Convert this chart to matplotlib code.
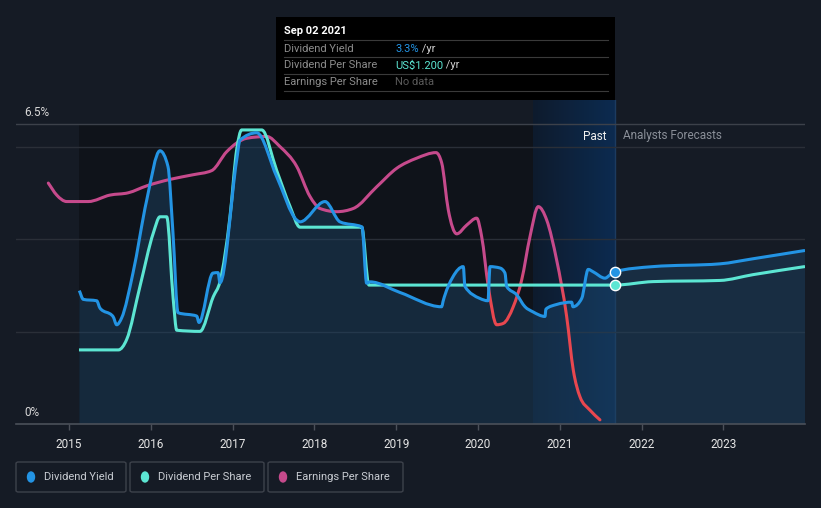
import numpy as np
import matplotlib.pyplot as plt
from matplotlib.colors import LinearSegmentedColormap
from matplotlib.patches import FancyBboxPatch, Rectangle, Ellipse, PathPatch
from matplotlib.path import Path
from matplotlib.lines import Line2D

plt.rcParams['font.family'] = ['Roboto', 'DejaVu Sans']

# dividend yield (%), past
yield_t = [2015.126, 2015.175, 2015.339, 2015.379, 2015.538, 2015.583, 2015.644, 2015.782,
           2015.950, 2016.112, 2016.210, 2016.271, 2016.333, 2016.561, 2016.589, 2016.760,
           2016.822, 2016.846, 2017.050, 2017.090, 2017.295, 2017.539, 2017.784, 2017.824,
           2018.130, 2018.313, 2018.582, 2018.639, 2018.680, 2019.046, 2019.556, 2019.572,
           2019.694, 2019.820, 2019.841, 2020.024, 2020.122, 2020.147, 2020.269, 2020.330,
           2020.351, 2020.473, 2020.575, 2020.672, 2020.819, 2020.831, 2020.962, 2021.145,
           2021.161, 2021.268, 2021.348, 2021.406, 2021.553, 2021.614, 2021.670]
yield_v = [2.89, 2.70, 2.67, 2.51, 2.33, 2.15, 2.30, 3.27,
           4.85, 5.92, 5.58, 4.14, 2.41, 2.34, 2.20, 3.27,
           3.28, 3.06, 5.72, 6.15, 6.31, 5.36, 4.42, 4.38,
           4.82, 4.38, 4.27, 3.05, 3.08, 2.85, 2.54, 2.65,
           3.19, 3.41, 2.98, 2.72, 2.67, 3.41, 3.38, 3.27,
           2.98, 2.80, 2.54, 2.43, 2.33, 2.49, 2.59, 2.64,
           2.54, 2.72, 3.35, 3.30, 3.16, 3.23, 3.30]
# dividend yield (%), forecast
yield_fc_t = [2021.670, 2022.139, 2022.958, 2023.362, 2023.998]
yield_fc_v = [3.30, 3.41, 3.47, 3.58, 3.76]

# dividend per share (US$), past
dps_t = [2015.122, 2015.603, 2015.705, 2015.868, 2016.031, 2016.112, 2016.194, 2016.275,
         2016.317, 2016.601, 2016.764, 2016.846, 2016.968, 2017.050, 2017.111, 2017.356,
         2017.539, 2017.702, 2017.824, 2018.578, 2018.667, 2021.670]
dps_v = [0.64, 0.64, 0.73, 1.19, 1.65, 1.79, 1.79, 1.07,
         0.81, 0.80, 1.10, 1.23, 1.79, 2.37, 2.54, 2.54,
         2.19, 1.88, 1.70, 1.70, 1.20, 1.20]
# dividend per share (US$), forecast
dps_fc_t = [2021.670, 2022.139, 2022.958, 2023.362, 2023.998]
dps_fc_v = [1.20, 1.23, 1.24, 1.29, 1.36]

# earnings per share (relative scale)
eps_t = [2014.747, 2014.850, 2014.972, 2015.236, 2015.501, 2015.725, 2015.950, 2016.235,
         2016.516, 2016.744, 2016.928, 2017.172, 2017.417, 2017.579, 2017.784, 2017.946,
         2018.068, 2018.273, 2018.476, 2018.762, 2019.006, 2019.251, 2019.487, 2019.556,
         2019.637, 2019.740, 2019.862, 2019.984, 2020.045, 2020.126, 2020.229, 2020.309,
         2020.431, 2020.534, 2020.636, 2020.737, 2020.840, 2020.962, 2021.084, 2021.165,
         2021.247, 2021.369, 2021.491]
eps_v = [5.22, 4.96, 4.82, 4.82, 4.96, 5.01, 5.16, 5.30,
         5.40, 5.49, 5.90, 6.19, 6.23, 6.01, 5.58, 4.93,
         4.67, 4.60, 4.67, 5.14, 5.54, 5.76, 5.88, 5.66,
         4.64, 4.12, 4.31, 4.46, 4.06, 2.98, 2.15, 2.18,
         2.54, 3.12, 4.06, 4.71, 4.42, 3.55, 2.33, 1.17,
         0.59, 0.30, 0.09]

years = [2015, 2016, 2017, 2018, 2019, 2020, 2021, 2022, 2023]
now_t = 2021.670
past_start = 2020.672
dps_per_pct = 1.20 / 3.01

BG = '#151b25'
BLUE = '#2394e4'
TEAL = '#5ce6d3'
YMAX = 7.02


def mono_path(t, v, close=False):
    # monotone cubic curve through the points (like d3 curveMonotoneX)
    t = np.asarray(t, float)
    v = np.asarray(v, float)
    h = np.diff(t)
    s = np.diff(v) / h
    m = np.zeros_like(v)
    m[0], m[-1] = s[0], s[-1]
    for k in range(1, len(v) - 1):
        p = (s[k - 1] * h[k] + s[k] * h[k - 1]) / (h[k - 1] + h[k])
        m[k] = (np.sign(s[k - 1]) + np.sign(s[k])) * min(abs(s[k - 1]), abs(s[k]), 0.5 * abs(p))
    verts = [(t[0], v[0])]
    codes = [Path.MOVETO]
    for k in range(len(h)):
        verts += [(t[k] + h[k] / 3, v[k] + m[k] * h[k] / 3),
                  (t[k + 1] - h[k] / 3, v[k + 1] - m[k + 1] * h[k] / 3),
                  (t[k + 1], v[k + 1])]
        codes += [Path.CURVE4] * 3
    if close:
        verts += [(t[-1], 0), (t[0], 0), (t[0], v[0])]
        codes += [Path.LINETO, Path.LINETO, Path.CLOSEPOLY]
    return Path(verts, codes)


fig = plt.figure(figsize=(8.21, 5.08), dpi=100, facecolor=BG)
ax = fig.add_axes([16 / 821, 84 / 508, 789 / 821, 324 / 508])
ax.set_facecolor(BG)
ax.set_xlim(2014.352, 2023.998)
ax.set_ylim(0, YMAX)

# darker past area and last-year band
ax.fill_between([yield_t[0], past_start], 0, 6.5, color='#0f131a', lw=0, zorder=0)
grad = np.linspace(0, 1, 256).reshape(1, -1)
band_cmap = LinearSegmentedColormap.from_list('band', ['#0e1b2d', '#0c2b50'])
ax.imshow(grad, cmap=band_cmap, aspect='auto', extent=[past_start, now_t, 0, YMAX], zorder=0.5)
ax.axvline(now_t, color='#1c3b60', lw=1, zorder=0.6)

# grid
for g in [2, 4, 6]:
    ax.axhline(g, color='#2a2f38', lw=1, zorder=1)
ax.axhline(6.5, color='#3c414a', lw=1, zorder=1)

# fill under yield
all_t = yield_t + yield_fc_t[1:]
all_v = yield_v + yield_fc_v[1:]
ax.add_patch(PathPatch(mono_path(all_t, all_v, close=True), facecolor='#1d4466', alpha=0.45,
                       lw=0, zorder=1.5))

# earnings per share, pink above and red below, blended in between
eps_cmap = LinearSegmentedColormap.from_list('eps', ['#e8474f', '#c64a8c'])
bands = np.concatenate([[-1], np.linspace(2.7, 3.4, 8), [YMAX + 1]])
eps_path = mono_path(eps_t, eps_v)
for i in range(len(bands) - 1):
    frac = i / (len(bands) - 2)
    pp = PathPatch(eps_path, fill=False, edgecolor=eps_cmap(frac), lw=2.2, zorder=3,
                   capstyle='round', joinstyle='round')
    ax.add_patch(pp)
    clip = Rectangle((2014, bands[i]), 11, bands[i + 1] - bands[i], transform=ax.transData)
    pp.set_clip_path(clip)

# dividend per share
dps_all_t = dps_t + dps_fc_t[1:]
dps_all = np.array(dps_v + dps_fc_v[1:]) / dps_per_pct
ax.add_patch(PathPatch(mono_path(dps_all_t, dps_all), fill=False, edgecolor=TEAL, lw=2.2,
                       zorder=4, joinstyle='round'))

# dividend yield
ax.add_patch(PathPatch(mono_path(all_t, all_v), fill=False, edgecolor=BLUE, lw=2.2,
                       zorder=5, joinstyle='round'))

ax.scatter([now_t], [yield_v[-1]], s=55, color=BLUE, edgecolor='white', lw=1, zorder=6)
ax.scatter([now_t], [dps_v[-1] / dps_per_pct], s=55, color=TEAL, edgecolor='white', lw=1,
           zorder=6)

for s in ['top', 'right', 'left']:
    ax.spines[s].set_visible(False)
ax.spines['bottom'].set_color('#4b5059')
ax.spines['bottom'].set_linewidth(1.2)
ax.set_yticks([])
ax.set_xticks(years)
ax.set_xticklabels([str(y) for y in years])
ax.tick_params(axis='x', colors='#4b5059', length=4, width=1, labelcolor='#e6e6e6',
               labelsize=8.5, pad=6)


def fx(px):
    return px / 821


def fy(py):
    return 1 - py / 508


fig.text(fx(24), fy(112), '6.5%', color='#d8d8d8', fontsize=8.5, va='center')
fig.text(fx(24), fy(412), '0%', color='#d8d8d8', fontsize=8.5, va='center')
fig.text(fx(607), fy(136), 'Past', color='#f0f0f0', fontsize=8.5, va='center', ha='right')
fig.text(fx(623), fy(136), 'Analysts Forecasts', color='#8a8f98', fontsize=8.5, va='center')

# tooltip
fig.patches.append(Rectangle((fx(276), fy(100)), fx(615) - fx(276), fy(17) - fy(100),
                             transform=fig.transFigure, facecolor='#000000', edgecolor='none',
                             zorder=10))
for ly in [40, 57.3, 74.3, 91.3]:
    fig.lines.append(Line2D([fx(284), fx(608)], [fy(ly), fy(ly)], transform=fig.transFigure,
                            color='#3a3a3a', lw=0.8, zorder=11))
fig.text(fx(284), fy(31), 'Sep 02 2021', color='white', fontsize=8, fontweight='bold',
         va='center', zorder=12)
rows = [('Dividend Yield', '3.3%', BLUE, ' /yr'),
        ('Dividend Per Share', 'US$1.200', TEAL, ' /yr'),
        ('Earnings Per Share', 'No data', '#5a5a5a', '')]
for i, (lab, val, col, suf) in enumerate(rows):
    yy = fy(48.5 + i * 17)
    fig.text(fx(284), yy, lab, color='#8c8c8c', fontsize=8, va='center', zorder=12)
    t = fig.text(fx(395), yy, val, color=col, fontsize=8, va='center', zorder=12)
    if suf:
        fig.canvas.draw()
        bb = t.get_window_extent()
        fig.text(bb.x1 / fig.bbox.width, yy, suf, color='#d0d0d0', fontsize=8, va='center',
                 zorder=12)

# legend
legend_items = [('Dividend Yield', BLUE, 16, 126), ('Dividend Per Share', TEAL, 130, 264),
                ('Earnings Per Share', '#c64a8c', 268, 403)]
for lab, col, x0, x1 in legend_items:
    fig.patches.append(FancyBboxPatch((fx(x0), fy(492)), fx(x1) - fx(x0), fy(462) - fy(492),
                                      boxstyle='round,pad=0,rounding_size=0.003',
                                      transform=fig.transFigure, facecolor='none',
                                      edgecolor='#3d424b', lw=1))
    fig.patches.append(Ellipse((fx(x0 + 15), fy(477)), 7 / 821, 10 / 508,
                               transform=fig.transFigure, color=col))
    fig.text(fx(x0 + 28), fy(477), lab, color='#c8ccd2', fontsize=8, va='center')

fig.savefig('out.png', dpi=100, facecolor=BG)
